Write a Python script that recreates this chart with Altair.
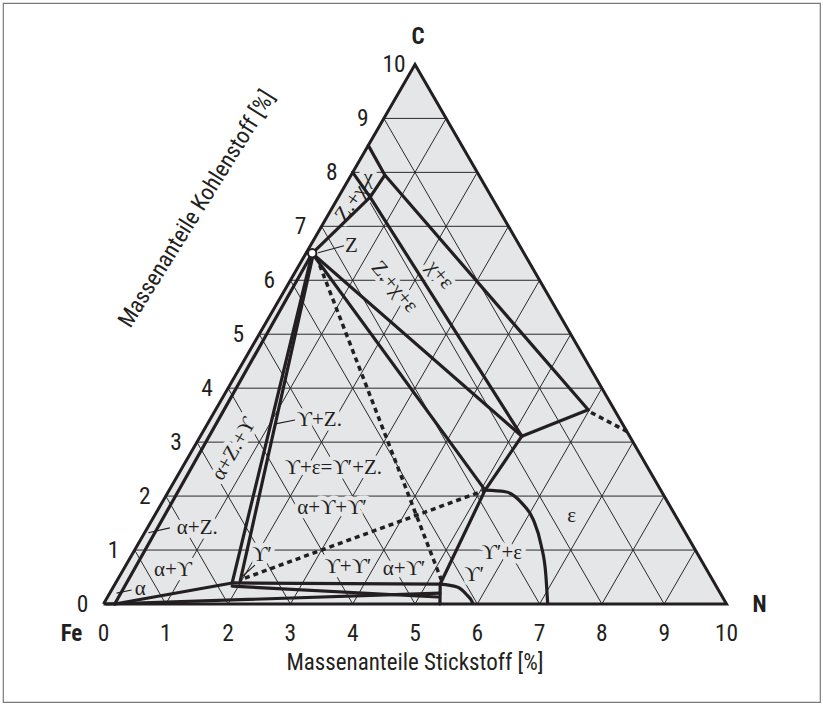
import altair as alt
import pandas as pd
import numpy as np

# ---------------- data (N %, C %) ----------------
n_ticks = [0, 1, 2, 3, 4, 5, 6, 7, 8, 9, 10]
c_ticks = [0, 1, 2, 3, 4, 5, 6, 7, 8, 9, 10]
grid_steps = [1, 2, 3, 4, 5, 6, 7, 8, 9]

triangle = [(0, 0), (10, 0), (0, 10), (0, 0)]
alpha_Z = [(0.18, 0.0), (0.1, 6.5)]
gamma_Z_a = [(1.87, 0.39), (0.1, 6.5)]
gamma_Z_b = [(1.98, 0.43), (0.12, 6.5)]
Z_J1 = [(0.1, 6.5), (5.07, 2.11)]
Z_J2 = [(0.1, 6.5), (5.16, 3.11)]
Z_X1 = [(0.1, 6.5), (0.51, 7.54)]
chi_box = [(0.0, 8.0), (0.51, 7.54), (0.54, 7.95), (0.0, 8.5)]
X2_J3 = [(0.54, 7.95), (5.98, 3.6)]
X1_J2 = [(0.51, 7.54), (5.16, 3.11)]
J3_J1_K = [(5.98, 3.6), (5.16, 3.11), (5.07, 2.11), (5.22, 0.37)]
K_down = [(5.22, 0.37), (5.40, 0.0)]
bottom_a = [(0.18, 0.0), (1.87, 0.39)]
bottom_b = [(1.87, 0.39), (5.22, 0.37)]
bottom_c = [(1.9, 0.33), (5.3, 0.13)]
bottom_d = [(0.05, 0.0), (5.3, 0.2)]

eps_curve = [(5.07, 2.11), (5.41, 2.08), (5.78, 1.87), (6.12, 1.56), (6.48, 1.09), (6.83, 0.54), (7.13, 0.0)]
gp_curve = [(5.22, 0.37), (5.52, 0.315), (5.75, 0.167), (5.90, 0.037), (5.93, 0.0)]

dot_Z = [(0.33, 6.28), (5.23, 0.41)]
dot_gp = [(2.03, 0.48), (5.07, 2.11)]
dot_eps = [(6.05, 3.55), (6.82, 3.19)]

leader_Z = [(0.54, 6.64), (0.19, 6.51)]
leader_aZ = [(0.36, 1.41), (0.06, 1.32)]
leader_a = [(0.32, 0.26), (0.11, 0.2)]
leader_gp = [(2.07, 0.72), (1.97, 0.51)]
leader_gZ = [(1.37, 3.41), (1.09, 3.34)]

Z_point = [(0.1, 6.5)]

label_text = ["α", "α+ϒ", "α+Z.", "ϒ′", "α+Z.+ϒ", "ϒ+Z.", "ϒ+ε=ϒ′+Z.", "α+ϒ+ϒ′",
              "ϒ+ϒ′", "α+ϒ′", "ϒ′", "ϒ′+ε", "ε", "Z", "Z.+χ+ε", "χ+ε", "χ", "Z.+χ"]
label_n = [0.45, 0.80, 0.80, 2.09, 0.66, 1.76, 2.43, 2.78, 3.58, 4.50, 5.68, 5.92, 6.70, 0.66, 1.73, 2.35, 0.30, 0.26]
label_c = [0.28, 0.63, 1.41, 0.91, 2.87, 3.41, 2.52, 1.78, 0.69, 0.65, 0.54, 0.95, 1.63, 6.64, 5.88, 6.10, 7.90, 7.43]
label_angle = [0, 0, 0, 0, 300, 0, 0, 0, 0, 0, 0, 0, 0, 0, 50, 50, 0, 305]

S = np.sqrt(3) / 2


def lines_df(named):
    rows = []
    for name, pts in named.items():
        for i, (n, c) in enumerate(pts):
            rows.append({"seg": name, "ord": i, "x": n + c / 2, "y": c * S})
    return pd.DataFrame(rows)


grid = {}
for k in grid_steps:
    grid[f"h{k}"] = [(0, k), (10 - k, k)]
    grid[f"n{k}"] = [(k, 0), (k, 10 - k)]
    grid[f"f{k}"] = [(k, 0), (0, k)]

thick = {
    "alpha_Z": alpha_Z, "gamma_Z_a": gamma_Z_a, "gamma_Z_b": gamma_Z_b,
    "Z_J1": Z_J1, "Z_J2": Z_J2, "Z_X1": Z_X1, "chi_box": chi_box,
    "X2_J3": X2_J3, "X1_J2": X1_J2, "J3_J1_K": J3_J1_K, "K_down": K_down,
    "bottom_a": bottom_a, "bottom_b": bottom_b, "bottom_c": bottom_c, "bottom_d": bottom_d,
}
curves = {"eps": eps_curve, "gp": gp_curve}
dotted = {"dot_Z": dot_Z, "dot_gp": dot_gp, "dot_eps": dot_eps}
leaders = {"lZ": leader_Z, "laZ": leader_aZ, "la": leader_a, "lgp": leader_gp, "lgZ": leader_gZ}

FILL = "#e5e6e8"
INK = "#231f20"
SANS = "Liberation Sans Narrow, Roboto Condensed, DejaVu Sans Condensed, Arial Narrow, Liberation Sans, sans-serif"
SERIF = "Liberation Serif, DejaVu Serif, serif"

xs = alt.Scale(domain=[-1.61316, 11.50080], nice=False, zero=False)
ys = alt.Scale(domain=[-1.57303, 9.64687], nice=False, zero=False)


def X():
    return alt.X("x:Q", scale=xs, axis=None)


def Y():
    return alt.Y("y:Q", scale=ys, axis=None)


# triangle fill
tri_df = pd.DataFrame({"x": [0, 5, 10], "y": [0, 10 * S, 0], "y0": [0, 0, 0]})
fill = alt.Chart(tri_df).mark_area(color=FILL, opacity=1).encode(x=X(), y=Y(), y2="y0:Q")


def line_layer(named, **kw):
    return alt.Chart(lines_df(named)).mark_line(**kw).encode(
        x=X(), y=Y(), detail="seg:N", order="ord:Q")


grid_l = line_layer(grid, color="#2a2a2a", strokeWidth=1.0)
edge_l = line_layer({"tri": triangle}, color=INK, strokeWidth=3, strokeJoin="miter")
thick_l = line_layer(thick, color=INK, strokeWidth=3.2, strokeCap="round", strokeJoin="round")
curve_l = line_layer(curves, color=INK, strokeWidth=3.2, interpolate="monotone")
dot_l = line_layer(dotted, color=INK, strokeWidth=3.5, strokeDash=[5, 4])
lead_l = line_layer(leaders, color=INK, strokeWidth=1.2)

zp_df = pd.DataFrame({"x": [n + c / 2 for n, c in Z_point], "y": [c * S for n, c in Z_point]})
zp = alt.Chart(zp_df).mark_point(shape="circle", size=70, filled=True, fill="white",
                                 stroke=INK, strokeWidth=2, opacity=1).encode(x=X(), y=Y())

lab_df = pd.DataFrame({
    "t": label_text,
    "x": [n + c / 2 for n, c in zip(label_n, label_c)],
    "y": [c * S for c in label_c],
    "a": label_angle,
})
halo = alt.Chart(lab_df).mark_text(font=SERIF, fontSize=21, fill=FILL, stroke=FILL,
                                   strokeWidth=9, strokeJoin="round", baseline="middle",
                                   align="center").encode(
    x=X(), y=Y(), text="t:N", angle=alt.Angle("a:Q", scale=None))
labels = alt.Chart(lab_df).mark_text(font=SERIF, fontSize=21, color=INK, baseline="middle",
                                     align="center").encode(
    x=X(), y=Y(), text="t:N", angle=alt.Angle("a:Q", scale=None))

bt_df = pd.DataFrame({"x": [float(v) for v in n_ticks], "y": [0.0] * len(n_ticks),
                      "t": [str(v) for v in n_ticks]})
bottom_ticks = alt.Chart(bt_df).mark_text(font=SANS, fontSize=23.5, color=INK, dy=30,
                                          baseline="middle", align="center").encode(
    x=X(), y=Y(), text="t:N")
lt_df = pd.DataFrame({"x": [c / 2 for c in c_ticks], "y": [c * S for c in c_ticks],
                      "t": [str(v) for v in c_ticks]})
left_ticks = alt.Chart(lt_df).mark_text(font=SANS, fontSize=23.5, color=INK, dx=-21, dy=1,
                                        baseline="middle", align="center").encode(
    x=X(), y=Y(), text="t:N")

corner_df = pd.DataFrame({"x": [0.0, 10.0, 5.0], "y": [0.0, 0.0, 10 * S], "t": ["Fe", "N", "C"],
                          "dx": [-32, 33, 3], "dy": [30, 1, -27]})
corners = []
for _, r in corner_df.iterrows():
    corners.append(alt.Chart(corner_df[corner_df.t == r.t]).mark_text(
        font=SANS, fontSize=23, fontWeight="bold", color=INK, dx=int(r.dx), dy=int(r.dy),
        baseline="middle", align="center").encode(x=X(), y=Y(), text="t:N"))

title_n = ["Massenanteile Stickstoff [%]"]
title_c = ["Massenanteile Kohlenstoff [%]"]
tn_df = pd.DataFrame({"x": [5.0], "y": [0.0], "t": title_n})
tn = alt.Chart(tn_df).mark_text(font=SANS, fontSize=23, color=INK, dy=59, baseline="middle",
                                align="center").encode(x=X(), y=Y(), text="t:N")
tc_df = pd.DataFrame({"x": [(197 - 103.5) / 62.3], "y": [(604 - 209) / 62.3], "t": title_c})
tc = alt.Chart(tc_df).mark_text(font=SANS, fontSize=23, color=INK, angle=302, baseline="middle",
                                align="center").encode(x=X(), y=Y(), text="t:N")

chart = alt.layer(
    fill, grid_l, halo, edge_l, thick_l, curve_l, dot_l, lead_l, zp, labels,
    bottom_ticks, left_ticks, *corners, tn, tc
).properties(
    width=817, height=699,
    padding={"left": 3, "top": 3, "right": 3, "bottom": 2},
    autosize=alt.AutoSizeParams(type="none"),
    background="white",
).configure_view(stroke="#7a7a7a", strokeWidth=1.2)

chart.save("out.html", embed_options={"renderer": "svg", "actions": False})
